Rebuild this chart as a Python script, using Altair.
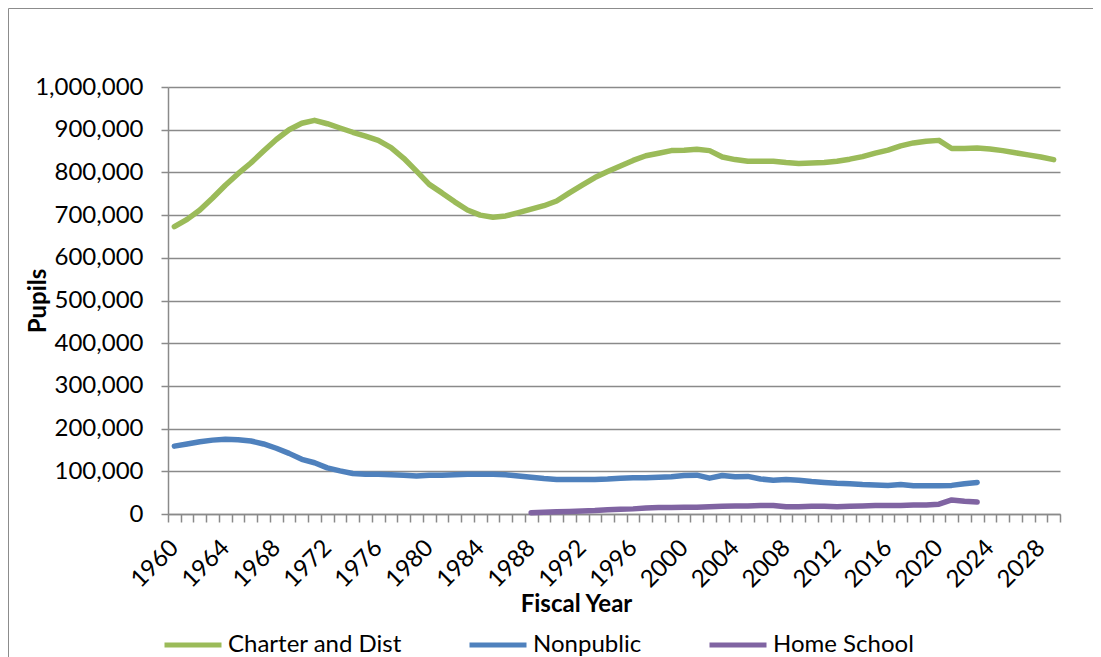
import altair as alt
import pandas as pd

years = list(range(1960, 2030))

series_names = ["Charter and Dist", "Nonpublic", "Home School"]
series_colors = ["#9BBB59", "#4F81BD", "#8064A2"]

# values in thousands of pupils
charter_k = [
    673, 690, 712, 740, 770, 797, 822, 850, 877, 900,
    915, 922, 914, 904, 894, 885, 875, 858, 833, 803,
    772, 752, 731, 712, 700, 695, 698, 706, 714, 722,
    733, 752, 770, 788, 802, 815, 828, 839, 845, 851,
    852, 854, 851, 836, 830, 826, 826, 826, 823, 821,
    822, 823, 826, 831, 837, 845, 852, 862, 869, 873,
    875, 856, 856, 857, 855, 851, 846, 841, 836, 830,
]
nonpublic_years = list(range(1960, 2024))
nonpublic_k = [
    159, 164, 169, 173, 175, 174, 171, 164, 154, 142,
    128, 120, 108, 101, 95, 93, 93, 92, 91, 89,
    91, 91, 92, 93, 93, 93, 92, 89, 86, 83,
    81, 81, 81, 81, 82, 84, 85, 85, 86, 87,
    90, 91, 84, 90, 87, 88, 82, 79, 81, 79,
    76, 74, 72, 71, 69, 68, 67, 69, 66, 66,
    66, 67, 71, 74,
]
home_years = list(range(1988, 2024))
home_k = [
    3, 4, 5, 6, 7, 8, 10, 11, 12, 14,
    15, 15, 16, 16, 17, 18, 19, 19, 20, 20,
    17, 17, 18, 18, 17, 18, 19, 20, 20, 20,
    21, 21, 23, 33, 30, 28,
]

y_ticks = list(range(0, 1000001, 100000))

rows = []
for yr, v in zip(years, charter_k):
    rows.append({"year": yr, "value": v * 1000, "series": series_names[0]})
for yr, v in zip(nonpublic_years, nonpublic_k):
    rows.append({"year": yr, "value": v * 1000, "series": series_names[1]})
for yr, v in zip(home_years, home_k):
    rows.append({"year": yr, "value": v * 1000, "series": series_names[2]})
df = pd.DataFrame(rows)

GRAY = "#8a8a8a"
FONT = "Lato"
FS = 24

frame_src = pd.DataFrame({"a": [0]})
border_left = alt.Chart(frame_src).mark_rule(stroke="#8c8c8c", strokeWidth=1).encode(
    x=alt.value(-159.5), y=alt.value(-78.5), y2=alt.value(620)
)
border_top = alt.Chart(frame_src).mark_rule(stroke="#8c8c8c", strokeWidth=1).encode(
    y=alt.value(-78.5), x=alt.value(-159.5), x2=alt.value(960)
)

lines = alt.Chart(df).mark_line(
    strokeWidth=5.5, strokeCap="round", strokeJoin="round"
).encode(
    x=alt.X(
        "year:O",
        scale=alt.Scale(type="band", domain=years, paddingInner=0, paddingOuter=0),
        axis=alt.Axis(
            title="Fiscal Year",
            labelExpr="datum.value % 4 == 0 ? datum.label : ''",
            labelAngle=-45,
            labelAlign="right",
            labelBaseline="middle",
            labelFont=FONT,
            labelFontSize=FS,
            labelColor="black",
            labelPadding=22,
            labelOverlap=False,
            labelBound=False,
            tickBand="extent",
            tickSize=8,
            tickColor=GRAY,
            tickWidth=1.5,
            domainColor=GRAY,
            domainWidth=1.5,
            grid=False,
            titleFont=FONT,
            titleFontSize=FS,
            titleFontWeight="bold",
            titleColor="black",
            titleX=408,
            titleY=90,
            titleAlign="center",
            titleBaseline="middle",
        ),
    ),
    y=alt.Y(
        "value:Q",
        scale=alt.Scale(domain=[0, 1000000], nice=False),
        axis=alt.Axis(
            title="Pupils",
            values=y_ticks,
            format=",d",
            labelFont=FONT,
            labelFontSize=FS,
            labelColor="black",
            labelPadding=18,
            tickSize=7,
            tickColor=GRAY,
            tickWidth=1.5,
            domainColor=GRAY,
            domainWidth=1.5,
            grid=True,
            gridColor=GRAY,
            gridWidth=1.5,
            titleFont=FONT,
            titleFontSize=FS,
            titleFontWeight="bold",
            titleColor="black",
            titleX=-130,
            titleY=213.5,
            titleAngle=270,
            titleAlign="center",
            titleBaseline="middle",
        ),
    ),
    color=alt.Color(
        "series:N",
        scale=alt.Scale(domain=series_names, range=series_colors),
        legend=alt.Legend(
            title=None,
            orient="none",
            legendX=-6,
            legendY=527,
            direction="horizontal",
            symbolType="stroke",
            symbolSize=3249,
            symbolStrokeWidth=5,
            labelFont=FONT,
            labelFontSize=FS,
            labelColor="black",
            labelOffset=4,
            columnPadding=57,
            labelLimit=400,
            padding=0,
            offset=0,
        ),
    ),
)

chart = alt.layer(border_left, border_top, lines).properties(
    width=892,
    height=427,
    autosize=alt.AutoSizeParams(type="none"),
    padding={"left": 160, "top": 79, "right": 33, "bottom": 170},
    background="white",
).configure_view(stroke=None)

chart.save("out.html", embed_options={"renderer": "svg", "actions": False})
